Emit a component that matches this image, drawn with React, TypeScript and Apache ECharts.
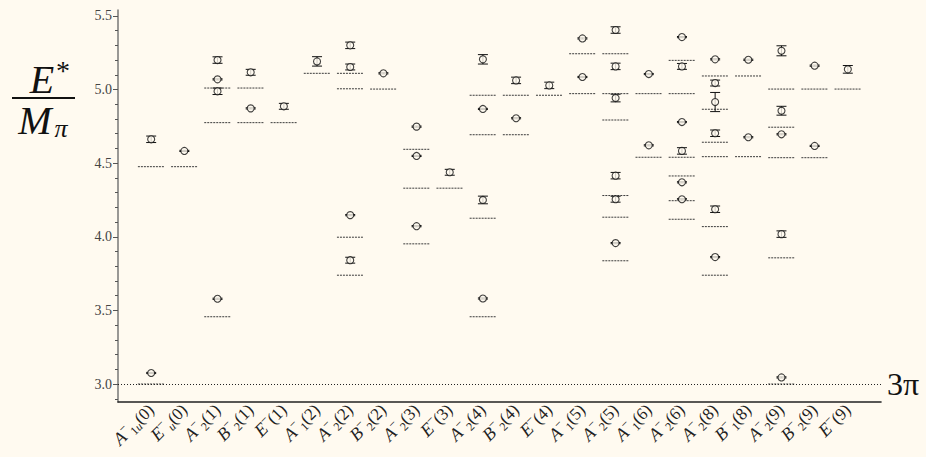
import React, { useEffect, useRef } from "react";
import * as echarts from "echarts";

// ---- category labels (irrep + momentum) ----
const labelBase = ["A", "E", "A", "B", "E", "A", "A", "B", "A", "E", "A", "B", "E", "A", "A", "A", "A", "A", "B", "A", "B", "E"];
const labelSub = ["1", "", "2", "2", "", "1", "2", "2", "2", "", "2", "2", "", "1", "2", "1", "2", "2", "1", "2", "2", ""];
const labelSubItalic = ["u", "u", "", "", "", "", "", "", "", "", "", "", "", "", "", "", "", "", "", "", "", ""];
const labelMomentum = ["0", "0", "1", "1", "1", "2", "2", "2", "3", "3", "4", "4", "4", "5", "5", "6", "6", "8", "8", "9", "9", "9"];

// ---- non-interacting (free) levels, per category ----
const freeLevels: number[][] = [
  [3.0, 4.476],
  [4.476],
  [3.457, 4.775, 5.01],
  [4.775, 5.01],
  [4.775],
  [5.11],
  [3.739, 3.997, 5.005, 5.11],
  [5.003],
  [3.952, 4.33, 4.594],
  [4.33],
  [3.457, 4.126, 4.693, 4.961],
  [4.693, 4.961],
  [4.961],
  [4.972, 5.243],
  [3.837, 4.133, 4.28, 4.793, 4.972, 5.243],
  [4.54, 4.972],
  [4.119, 4.245, 4.413, 4.54, 4.972, 5.198],
  [3.739, 4.069, 4.544, 4.642, 4.866, 5.092],
  [4.544, 5.092],
  [3.0, 3.857, 4.537, 4.744, 5.003],
  [4.537, 5.003],
  [5.003],
];

// ---- lattice energies and their errors, per category ----
const latticeLevels: number[][] = [
  [3.075, 4.662],
  [4.583],
  [3.579, 4.988, 5.069, 5.2],
  [4.872, 5.117],
  [4.886],
  [5.191],
  [3.841, 4.147, 5.153, 5.3],
  [5.11],
  [4.072, 4.549, 4.748],
  [4.438],
  [3.581, 4.25, 4.868, 5.205],
  [4.805, 5.062],
  [5.028],
  [5.085, 5.347],
  [3.957, 4.255, 4.415, 4.942, 5.157, 5.404],
  [4.621, 5.105],
  [4.255, 4.37, 4.583, 4.779, 5.157, 5.356],
  [3.862, 4.187, 4.703, 4.915, 5.044, 5.205],
  [4.676, 5.202],
  [3.045, 4.018, 4.696, 4.856, 5.263],
  [4.617, 5.162],
  [5.137],
];
const latticeErrors: number[][] = [
  [0.004, 0.022],
  [0.004],
  [0.004, 0.022, 0.004, 0.022],
  [0.004, 0.02],
  [0.02],
  [0.032],
  [0.02, 0.004, 0.02, 0.022],
  [0.004],
  [0.004, 0.004, 0.004],
  [0.02],
  [0.004, 0.026, 0.004, 0.032],
  [0.004, 0.022],
  [0.022],
  [0.004, 0.004],
  [0.004, 0.02, 0.022, 0.026, 0.022, 0.022],
  [0.004, 0.004],
  [0.004, 0.004, 0.022, 0.004, 0.02, 0.004],
  [0.004, 0.022, 0.022, 0.065, 0.02, 0.004],
  [0.004, 0.004],
  [0.004, 0.022, 0.004, 0.03, 0.034],
  [0.004, 0.004],
  [0.026],
];

const threshold = 3.0;
const yMajorTicks = [3.0, 3.5, 4.0, 4.5, 5.0, 5.5];
const yMinorTicks = [2.9, 3.0, 3.1, 3.2, 3.3, 3.4, 3.5, 3.6, 3.7, 3.8, 3.9, 4.0, 4.1, 4.2, 4.3, 4.4, 4.5, 4.6, 4.7, 4.8, 4.9, 5.0, 5.1, 5.2, 5.3, 5.4, 5.5];

const BG = "#fffaf0";
const SERIF = '"Liberation Serif", "DejaVu Serif", serif';

export default function App() {
  const ref = useRef<HTMLDivElement>(null);
  useEffect(() => {
    if (!ref.current) return;
    const chart = echarts.init(ref.current, null, { renderer: "svg" });

    const freeData: number[][] = [];
    freeLevels.forEach((arr, i) => arr.forEach((v) => freeData.push([i + 1, v])));
    const pointData: number[][] = [];
    const errData: number[][] = [];
    latticeLevels.forEach((arr, i) =>
      arr.forEach((v, j) => {
        pointData.push([i + 1, v]);
        errData.push([i + 1, v, latticeErrors[i][j]]);
      })
    );

    const n = labelBase.length;
    const fmt = (val: number) => {
      const r = Math.round(val);
      if (Math.abs(val - r) > 1e-6) return "";
      const i = r - 1;
      if (i < 0 || i >= n) return "";
      let s = `{it|${labelBase[i]}}{sup|−}`;
      if (labelSub[i]) s += `{sub|${labelSub[i]}}`;
      if (labelSubItalic[i]) s += `{subi|${labelSubItalic[i]}}`;
      s += `{rm|(${labelMomentum[i]})}`;
      return s;
    };

    const option: any = {
      animation: false,
      backgroundColor: BG,
      grid: { left: 118, right: 45, top: 10, bottom: 55 },
      xAxis: {
        type: "value",
        min: 0,
        max: 23,
        interval: 1,
        axisLine: { show: true, onZero: false, lineStyle: { color: "#222", width: 1.6 } },
        axisTick: { show: false },
        splitLine: { show: false },
        axisLabel: {
          rotate: 45,
          margin: 5,
          formatter: fmt,
          color: "#222",
          rich: {
            it: { fontFamily: SERIF, fontStyle: "italic", fontSize: 18, color: "#222" },
            sup: { fontFamily: SERIF, fontSize: 12, color: "#222", padding: [0, 0, 11, 0] },
            sub: { fontFamily: SERIF, fontSize: 12, color: "#222", padding: [10, 0, 0, 0] },
            subi: { fontFamily: SERIF, fontStyle: "italic", fontSize: 12, color: "#222", padding: [10, 0, 0, 0] },
            rm: { fontFamily: SERIF, fontSize: 17, color: "#222" },
          },
        },
      },
      yAxis: [
        {
          type: "value",
          min: 2.878,
          max: 5.54,
          axisLine: { show: true, onZero: false, lineStyle: { color: "#777", width: 1.5 } },
          axisTick: { show: true, length: 5, customValues: yMajorTicks, lineStyle: { color: "#555" } },
          splitLine: { show: false },
          axisLabel: {
            customValues: yMajorTicks,
            formatter: (v: number) => v.toFixed(1),
            fontFamily: SERIF,
            fontSize: 14,
            color: "#444",
            margin: 6,
          },
        },
        {
          type: "value",
          min: 2.878,
          max: 5.54,
          position: "left",
          axisLine: { show: false },
          axisTick: { show: true, length: 3, customValues: yMinorTicks, lineStyle: { color: "#555" } },
          axisLabel: { show: false },
          splitLine: { show: false },
        },
      ],
      series: [
        {
          type: "custom",
          name: "free",
          xAxisIndex: 0,
          yAxisIndex: 0,
          data: freeData,
          z: 2,
          renderItem: (params: any, api: any) => {
            const x = api.value(0);
            const y = api.value(1);
            const p1 = api.coord([x - 0.4, y]);
            const p2 = api.coord([x + 0.4, y]);
            return {
              type: "line",
              shape: { x1: p1[0], y1: p1[1], x2: p2[0], y2: p2[1] },
              style: { stroke: "#3a3a3a", lineWidth: 1, lineDash: [2, 1] },
            };
          },
        },
        {
          type: "custom",
          name: "err",
          xAxisIndex: 0,
          yAxisIndex: 0,
          data: errData,
          z: 3,
          renderItem: (params: any, api: any) => {
            const x = api.value(0);
            const y = api.value(1);
            const e = api.value(2);
            const top = api.coord([x, y + e]);
            const bot = api.coord([x, y - e]);
            const hw = 5;
            const st = { stroke: "#111", lineWidth: 1 };
            return {
              type: "group",
              children: [
                { type: "line", shape: { x1: top[0], y1: top[1], x2: bot[0], y2: bot[1] }, style: st },
                { type: "line", shape: { x1: top[0] - hw, y1: top[1], x2: top[0] + hw, y2: top[1] }, style: st },
                { type: "line", shape: { x1: bot[0] - hw, y1: bot[1], x2: bot[0] + hw, y2: bot[1] }, style: st },
              ],
            };
          },
        },
        {
          type: "scatter",
          name: "lattice",
          xAxisIndex: 0,
          yAxisIndex: 0,
          data: pointData,
          symbol: "circle",
          symbolSize: 7,
          z: 4,
          itemStyle: { color: BG, borderColor: "#111", borderWidth: 1.1 },
          markLine: {
            silent: true,
            symbol: "none",
            data: [{ yAxis: threshold }],
            lineStyle: { type: [1, 2], color: "#222", width: 1 },
            label: {
              show: true,
              position: "end",
              formatter: "3π",
              fontFamily: SERIF,
              fontSize: 32,
              color: "#111",
              distance: 6,
            },
          },
        },
      ],
      graphic: [
        {
          type: "text",
          x: 42,
          y: 79,
          style: { text: "E", fontFamily: SERIF, fontStyle: "italic", fontSize: 40, lineHeight: 30, fill: "#111", align: "center", verticalAlign: "middle" },
        },
        {
          type: "text",
          x: 63,
          y: 70,
          style: { text: "*", fontFamily: SERIF, fontSize: 28, lineHeight: 16, fill: "#111", align: "center", verticalAlign: "middle" },
        },
        {
          type: "rect",
          shape: { x: 12, y: 97, width: 63, height: 2 },
          style: { fill: "#111" },
        },
        {
          type: "text",
          x: 35,
          y: 120,
          style: { text: "M", fontFamily: SERIF, fontStyle: "italic", fontSize: 40, lineHeight: 30, fill: "#111", align: "center", verticalAlign: "middle" },
        },
        {
          type: "text",
          x: 61,
          y: 128,
          style: { text: "π", fontFamily: SERIF, fontStyle: "italic", fontSize: 26, lineHeight: 18, fill: "#111", align: "center", verticalAlign: "middle" },
        },
      ],
    };
    chart.setOption(option);
    return () => chart.dispose();
  }, []);
  return (
    <div
      ref={ref}
      style={{ position: "fixed", left: 0, top: 0, width: 926, height: 457, background: BG }}
    />
  );
}
